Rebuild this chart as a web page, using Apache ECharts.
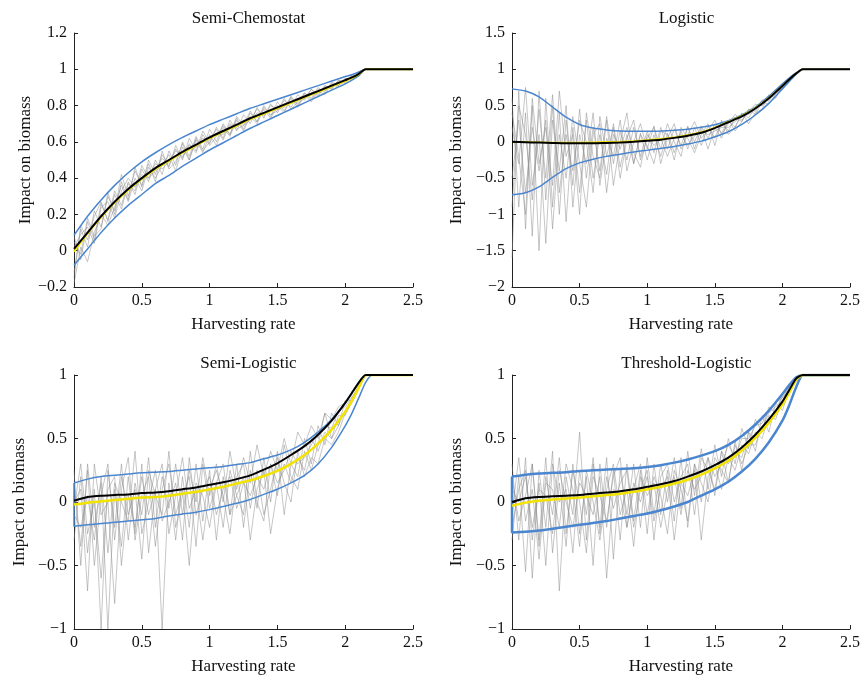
<!DOCTYPE html>
<html>
<head>
<meta charset="utf-8">
<script src="https://cdn.jsdelivr.net/npm/echarts@6/dist/echarts.min.js"></script>
<style>html,body{margin:0;padding:0;background:#fff}#c{width:863px;height:677px}</style>
</head>
<body>
<div id="c"></div>
<script>
var titles = ['Semi-Chemostat', 'Logistic', 'Semi-Logistic', 'Threshold-Logistic'];
var xName = 'Harvesting rate';
var yName = 'Impact on biomass';
var xTicks = [0, 0.5, 1, 1.5, 2, 2.5];
var yRanges = [[-0.2, 1.2, 0.2], [-2, 1.5, 0.5], [-1, 1, 0.5], [-1, 1, 0.5]];

var xSmooth = [0,0.1,0.2,0.3,0.4,0.5,0.6,0.7,0.8,0.9,1.0,1.1,1.2,1.3,1.4,1.5,1.6,1.7,1.8,1.9,2.0,2.05,2.1,2.15,2.2,2.5];
var xNoise = [0,0.05,0.1,0.15,0.2,0.25,0.3,0.35,0.4,0.45,0.5,0.55,0.6,0.65,0.7,0.75,0.8,0.85,0.9,0.95,1.0,1.05,1.1,1.15,1.2,1.25,1.3,1.35,1.4,1.45,1.5,1.55,1.6,1.65,1.7,1.75,1.8,1.85,1.9,1.95,2.0,2.05,2.1,2.15];

// Panel 1: Semi-Chemostat
var p1Mean   = [0.01,0.10,0.19,0.27,0.34,0.40,0.455,0.50,0.545,0.585,0.625,0.66,0.695,0.73,0.76,0.79,0.82,0.85,0.88,0.91,0.94,0.955,0.975,1.0,1.0,1.0];
var p1Yellow = [-0.005,0.095,0.185,0.265,0.335,0.395,0.45,0.495,0.54,0.58,0.62,0.655,0.69,0.725,0.755,0.785,0.815,0.845,0.875,0.905,0.935,0.952,0.972,1.0,1.0,1.0];
var p1Upper  = [0.085,0.19,0.28,0.36,0.43,0.49,0.54,0.585,0.625,0.66,0.695,0.725,0.755,0.785,0.81,0.835,0.86,0.885,0.91,0.935,0.96,0.97,0.985,1.0,1.0,1.0];
var p1Lower  = [-0.08,0.01,0.10,0.18,0.25,0.31,0.37,0.415,0.465,0.51,0.555,0.595,0.635,0.675,0.71,0.745,0.78,0.815,0.85,0.885,0.92,0.94,0.965,1.0,1.0,1.0];
var p1TraceA = [-0.12,0.12,0.02,0.22,0.13,0.30,0.22,0.42,0.30,0.44,0.36,0.50,0.42,0.53,0.46,0.58,0.50,0.62,0.55,0.66,0.59,0.68,0.62,0.72,0.66,0.75,0.70,0.79,0.73,0.81,0.76,0.83,0.79,0.86,0.83,0.89,0.86,0.91,0.89,0.94,0.93,0.96,0.97,1.0];
var p1TraceB = [0.08,-0.05,0.16,0.06,0.26,0.17,0.33,0.25,0.38,0.31,0.45,0.38,0.50,0.42,0.55,0.47,0.60,0.52,0.63,0.56,0.67,0.60,0.70,0.64,0.73,0.67,0.76,0.71,0.80,0.74,0.82,0.77,0.85,0.80,0.87,0.84,0.90,0.87,0.93,0.91,0.95,0.94,0.98,1.0];
var p1TraceC = [-0.18,0.02,-0.06,0.10,0.20,0.14,0.24,0.36,0.27,0.40,0.33,0.46,0.40,0.47,0.53,0.44,0.57,0.50,0.61,0.54,0.64,0.58,0.68,0.63,0.72,0.66,0.74,0.70,0.78,0.73,0.80,0.76,0.84,0.79,0.86,0.82,0.88,0.86,0.92,0.90,0.94,0.95,0.97,1.0];
var p1TraceD = [0.02,0.09,0.13,0.04,0.24,0.27,0.18,0.33,0.40,0.35,0.42,0.40,0.48,0.45,0.49,0.55,0.52,0.58,0.57,0.62,0.61,0.65,0.64,0.69,0.68,0.72,0.72,0.76,0.75,0.78,0.78,0.81,0.81,0.84,0.84,0.87,0.87,0.90,0.90,0.93,0.93,0.96,0.97,1.0];
var p1TraceE = [0.05,-0.02,0.18,0.08,0.12,0.32,0.20,0.38,0.28,0.46,0.35,0.48,0.38,0.55,0.45,0.49,0.59,0.50,0.62,0.55,0.60,0.67,0.61,0.70,0.67,0.69,0.77,0.71,0.79,0.75,0.77,0.84,0.78,0.82,0.87,0.83,0.89,0.88,0.92,0.91,0.95,0.94,0.98,1.0];
var p1TraceF = [-0.15,0.14,0.06,0.19,0.27,0.16,0.31,0.23,0.37,0.33,0.47,0.40,0.44,0.51,0.47,0.56,0.51,0.59,0.54,0.64,0.58,0.63,0.69,0.64,0.74,0.69,0.72,0.78,0.74,0.80,0.78,0.79,0.85,0.81,0.84,0.89,0.85,0.91,0.89,0.94,0.92,0.97,0.96,1.0];

// Panel 2: Logistic
var p2Mean   = [0,-0.005,-0.01,-0.015,-0.02,-0.02,-0.02,-0.015,-0.01,0,0.015,0.03,0.055,0.085,0.125,0.19,0.27,0.35,0.46,0.6,0.77,0.86,0.94,1.0,1.0,1.0];
var p2Yellow = [0,0,-0.005,-0.01,-0.01,-0.01,-0.005,0,0.005,0.012,0.025,0.042,0.065,0.095,0.135,0.2,0.28,0.36,0.47,0.61,0.775,0.86,0.94,1.0,1.0,1.0];
var p2Upper  = [0.73,0.70,0.62,0.48,0.34,0.24,0.19,0.165,0.15,0.145,0.145,0.15,0.16,0.175,0.2,0.235,0.29,0.37,0.48,0.63,0.8,0.88,0.95,1.0,1.0,1.0];
var p2Lower  = [-0.73,-0.70,-0.62,-0.49,-0.37,-0.29,-0.24,-0.2,-0.17,-0.14,-0.115,-0.09,-0.065,-0.03,0.01,0.07,0.14,0.24,0.37,0.53,0.73,0.83,0.93,1.0,1.0,1.0];
var p2TraceA = [0.6,-0.9,0.4,-1.3,0.7,-0.8,0.5,-1.0,0.3,-0.6,0.45,-0.5,0.2,-0.4,0.35,-0.3,0.15,-0.25,0.2,-0.2,0.15,-0.15,0.2,-0.1,0.18,-0.05,0.2,0.0,0.22,0.05,0.25,0.12,0.3,0.2,0.38,0.33,0.48,0.5,0.62,0.68,0.79,0.86,0.94,1.0];
var p2TraceB = [-1.6,0.7,-1.2,0.5,-1.5,0.6,-0.9,0.4,-1.1,0.2,-0.7,0.3,-0.5,0.1,-0.45,0.25,-0.35,0.1,-0.3,0.12,-0.25,0.1,-0.2,0.12,-0.15,0.15,-0.1,0.2,-0.05,0.22,0.05,0.28,0.15,0.33,0.28,0.45,0.42,0.58,0.56,0.72,0.75,0.87,0.93,1.0];
var p2TraceC = [0.2,-0.3,0.75,-0.6,0.1,-1.4,0.3,-0.4,0.5,-0.9,0.1,-0.3,0.4,-0.6,0.05,-0.2,0.3,-0.4,0.0,0.25,-0.1,0.22,-0.3,0.05,0.25,-0.1,0.1,0.28,0.05,0.15,0.3,0.1,0.25,0.38,0.3,0.42,0.52,0.5,0.6,0.7,0.77,0.85,0.94,1.0];
var p2TraceD = [-0.5,0.3,-0.7,0.2,-0.4,0.3,-1.2,0.1,-0.5,0.35,-0.3,-0.9,0.1,0.25,-0.7,0.1,-0.1,0.2,-0.15,-0.35,0.1,-0.05,0.05,-0.2,0.05,0.1,-0.05,0.08,0.15,0.1,0.15,0.2,0.2,0.28,0.35,0.38,0.45,0.55,0.58,0.7,0.76,0.86,0.93,1.0];
var p2TraceE = [0.4,-0.2,-1.0,0.6,-0.3,0.2,-0.6,0.7,-0.2,0.1,-1.0,0.4,-0.2,-0.5,0.3,-0.6,0.0,0.4,-0.3,0.1,-0.05,-0.3,0.15,0.1,-0.25,0.2,0.05,-0.15,0.1,0.25,-0.05,0.3,0.1,0.2,0.4,0.25,0.4,0.45,0.65,0.6,0.78,0.85,0.93,1.0];
var p2TraceF = [-0.9,0.5,0.1,-0.8,0.45,-0.5,0.65,-0.7,0.1,-0.4,0.3,0.0,-0.7,0.35,-0.2,0.2,-0.5,0.05,0.3,-0.25,0.05,0.2,-0.1,0.25,0.0,-0.2,0.22,-0.1,0.2,-0.1,0.2,0.05,0.3,0.15,0.28,0.45,0.38,0.55,0.52,0.66,0.74,0.84,0.94,1.0];

// Panel 3: Semi-Logistic
var p3Mean   = [0.01,0.04,0.05,0.055,0.06,0.07,0.075,0.085,0.1,0.115,0.135,0.155,0.18,0.21,0.255,0.305,0.37,0.44,0.53,0.64,0.78,0.86,0.94,1.0,1.0,1.0];
var p3Yellow = [-0.02,-0.005,0.005,0.015,0.025,0.035,0.04,0.05,0.065,0.08,0.1,0.12,0.145,0.17,0.205,0.245,0.3,0.37,0.46,0.57,0.71,0.8,0.9,1.0,1.0,1.0];
var p3Upper  = [0.15,0.18,0.2,0.21,0.22,0.23,0.235,0.24,0.25,0.26,0.27,0.28,0.295,0.31,0.34,0.37,0.41,0.47,0.55,0.65,0.78,0.86,0.94,1.0,1.0,1.0];
var p3Lower  = [-0.19,-0.18,-0.17,-0.16,-0.15,-0.14,-0.13,-0.11,-0.095,-0.08,-0.06,-0.035,-0.01,0.02,0.06,0.1,0.15,0.21,0.3,0.43,0.6,0.7,0.82,0.94,1.0,1.0];
var p3TraceA = [-0.3,0.2,-0.4,0.1,-1.0,0.25,-0.2,0.3,-0.3,0.15,-0.1,0.35,-0.2,0.2,-0.05,0.3,-0.1,0.25,0.0,0.35,0.05,0.3,0.0,0.4,0.1,0.35,0.15,0.45,0.2,0.4,0.25,0.5,0.3,0.55,0.45,0.6,0.5,0.7,0.65,0.75,0.78,0.85,0.93,1.0];
var p3TraceB = [0.25,-0.5,0.3,-0.2,0.15,-1.0,0.1,-0.35,0.2,-0.25,0.3,-0.4,0.1,-1.0,0.15,-0.3,0.2,-0.2,0.3,-0.15,0.25,-0.3,0.2,-0.1,0.3,-0.2,0.25,-0.05,0.35,0.0,0.4,-0.1,0.3,0.2,0.5,0.3,0.6,0.45,0.7,0.6,0.8,0.8,0.92,1.0];
var p3TraceC = [0.0,0.1,-0.7,0.3,-0.1,0.0,-0.8,0.1,0.35,-0.3,0.05,0.2,-0.35,0.1,0.3,-0.1,0.1,-0.5,0.15,0.05,-0.2,0.15,0.3,-0.1,0.05,0.2,-0.3,0.1,0.25,-0.25,0.1,0.3,0.15,0.35,0.25,0.5,0.4,0.55,0.5,0.68,0.68,0.8,0.9,1.0];
var p3TraceD = [-0.1,-0.2,0.05,-0.3,0.2,-0.4,0.15,0.0,-0.15,0.4,-0.25,0.0,0.25,-0.15,0.0,0.15,-0.3,0.35,-0.1,0.1,0.2,-0.1,0.1,0.2,-0.05,0.15,0.05,0.2,0.1,0.3,0.15,0.25,0.4,0.3,0.35,0.45,0.55,0.6,0.58,0.72,0.75,0.83,0.9,1.0];
var p3TraceE = [0.15,-0.35,0.25,-0.5,0.05,0.3,-0.3,0.2,-0.1,0.1,-0.45,0.25,0.05,-0.1,0.4,-0.2,0.05,0.2,-0.35,0.3,-0.05,0.15,-0.2,0.25,0.05,-0.1,0.4,0.0,-0.15,0.3,0.05,0.45,0.2,0.1,0.4,0.25,0.45,0.7,0.5,0.6,0.72,0.82,0.91,1.0];
var p3TraceF = [-0.05,0.3,-0.25,0.0,-0.6,0.1,0.2,-0.5,0.05,-0.2,0.2,-0.1,0.1,0.3,-0.25,0.05,0.35,-0.05,0.1,-0.3,0.1,0.25,0.05,-0.25,0.2,0.3,-0.05,0.25,-0.1,0.1,0.35,0.15,0.0,0.4,0.2,0.35,0.3,0.5,0.45,0.55,0.7,0.78,0.89,1.0];

// Panel 4: Threshold-Logistic
var p4Mean   = [0,0.03,0.04,0.045,0.05,0.055,0.065,0.075,0.085,0.1,0.12,0.14,0.165,0.2,0.24,0.29,0.35,0.43,0.53,0.65,0.79,0.88,0.97,1.0,1.0,1.0];
var p4Yellow = [-0.03,-0.005,0.01,0.02,0.027,0.035,0.045,0.055,0.065,0.08,0.1,0.12,0.145,0.175,0.215,0.265,0.325,0.405,0.505,0.625,0.77,0.86,0.96,1.0,1.0,1.0];
var p4Upper  = [0.2,0.215,0.225,0.23,0.235,0.245,0.25,0.255,0.26,0.265,0.275,0.29,0.31,0.335,0.365,0.4,0.45,0.52,0.61,0.72,0.85,0.92,0.98,1.0,1.0,1.0];
var p4Lower  = [-0.24,-0.235,-0.225,-0.21,-0.195,-0.18,-0.165,-0.15,-0.13,-0.11,-0.09,-0.065,-0.035,0.0,0.05,0.1,0.16,0.24,0.34,0.47,0.64,0.76,0.9,1.0,1.0,1.0];
var p4TraceA = [0.3,-0.3,0.35,-0.6,0.25,-0.2,0.4,-0.7,0.2,-0.1,0.55,-0.3,0.3,-0.2,0.35,-0.45,0.25,-0.1,0.3,-0.2,0.35,-0.1,0.3,0.0,0.35,-0.05,0.4,0.05,0.42,0.1,0.45,0.2,0.5,0.3,0.58,0.42,0.65,0.55,0.75,0.7,0.85,0.88,0.96,1.0];
var p4TraceB = [-0.3,0.2,-0.55,0.3,-0.3,0.35,-0.4,0.15,-0.35,0.3,-0.25,0.2,-0.5,0.3,-0.2,0.25,-0.3,0.3,-0.15,0.25,-0.25,0.3,-0.1,0.25,-0.15,0.35,-0.2,0.3,0.0,0.35,0.05,0.4,0.15,0.48,0.25,0.55,0.4,0.68,0.55,0.78,0.72,0.88,0.95,1.0];
var p4TraceC = [0.1,0.0,0.2,-0.2,0.1,0.05,-0.25,0.25,0.0,-0.2,0.15,0.05,-0.1,0.2,-0.6,0.1,0.05,-0.2,0.15,0.0,0.2,-0.15,0.1,0.2,-0.3,0.15,0.05,0.25,-0.3,0.2,0.3,0.1,0.35,0.25,0.45,0.38,0.55,0.5,0.68,0.65,0.8,0.85,0.95,1.0];
var p4TraceD = [-0.1,0.35,-0.15,0.1,-0.45,0.15,0.1,-0.2,0.3,0.1,-0.35,0.25,0.0,-0.3,0.1,0.3,-0.1,0.1,-0.35,0.2,0.05,0.15,-0.2,0.1,0.2,-0.1,0.25,0.1,0.2,0.35,0.2,0.3,0.45,0.35,0.5,0.5,0.6,0.62,0.72,0.78,0.82,0.9,0.96,1.0];
var p4TraceE = [0.2,-0.15,0.05,0.3,-0.35,0.2,-0.1,0.35,-0.25,0.25,0.0,-0.4,0.2,0.05,-0.15,0.2,0.35,-0.2,0.1,0.3,-0.1,0.2,0.05,-0.25,0.25,0.1,-0.15,0.3,0.15,0.0,0.35,0.25,0.15,0.45,0.3,0.45,0.45,0.6,0.65,0.7,0.83,0.87,0.96,1.0];
var p4TraceF = [-0.2,0.1,0.25,-0.3,0.15,-0.5,0.3,0.0,0.1,-0.4,0.25,-0.1,0.35,-0.25,0.2,-0.05,0.15,0.25,-0.2,0.1,0.25,-0.3,0.2,0.3,0.0,0.2,0.3,-0.1,0.35,0.25,0.1,0.4,0.3,0.4,0.35,0.55,0.5,0.58,0.7,0.75,0.8,0.9,0.95,1.0];

var panels = [
  {mean: p1Mean, yellow: p1Yellow, upper: p1Upper, lower: p1Lower, traces: [p1TraceA, p1TraceB, p1TraceC, p1TraceD, p1TraceE, p1TraceF], join: false, blueW: 1.5, yelW: 2},
  {mean: p2Mean, yellow: p2Yellow, upper: p2Upper, lower: p2Lower, traces: [p2TraceA, p2TraceB, p2TraceC, p2TraceD, p2TraceE, p2TraceF], join: false, blueW: 1.5, yelW: 1.5},
  {mean: p3Mean, yellow: p3Yellow, upper: p3Upper, lower: p3Lower, traces: [p3TraceA, p3TraceB, p3TraceC, p3TraceD, p3TraceE, p3TraceF], join: true, blueW: 1.5, yelW: 2.5},
  {mean: p4Mean, yellow: p4Yellow, upper: p4Upper, lower: p4Lower, traces: [p4TraceA, p4TraceB, p4TraceC, p4TraceD, p4TraceE, p4TraceF], join: true, blueW: 2.5, yelW: 2.5}
];

var FONT = '"Liberation Serif", "DejaVu Serif", serif';
var grids = [
  {left: 74, top: 33, width: 339, height: 254},
  {left: 512, top: 33, width: 339, height: 254},
  {left: 74, top: 375, width: 339, height: 254},
  {left: 512, top: 375, width: 339, height: 254}
];
var titleTops = [5, 5, 350, 350];
var yNameGaps = [36, 47, 46, 47];

function pairs(xs, ys) { return ys.map(function (y, i) { return [xs[i], y]; }); }
function fmt(v) { var s = String(parseFloat(v.toFixed(2))); return s.replace('-', '\u2212'); }

var option = {animation: false, title: [], grid: grids, xAxis: [], yAxis: [], series: []};

panels.forEach(function (p, k) {
  var g = grids[k];
  option.title.push({
    text: titles[k], left: g.left + g.width / 2, top: titleTops[k], textAlign: 'center',
    textStyle: {fontFamily: FONT, fontSize: 17, fontWeight: 'normal', color: '#111'}
  });
  option.xAxis.push({
    type: 'value', gridIndex: k, min: xTicks[0], max: xTicks[xTicks.length - 1], interval: 0.5,
    name: xName, nameLocation: 'middle', nameGap: 29,
    nameTextStyle: {fontFamily: FONT, fontSize: 17, color: '#111'},
    axisLine: {onZero: false, lineStyle: {color: '#222', width: 1}},
    axisTick: {inside: true, length: 4, lineStyle: {color: '#222'}},
    axisLabel: {fontFamily: FONT, fontSize: 16, color: '#111', margin: 6, formatter: fmt},
    splitLine: {show: false}
  });
  var yr = yRanges[k];
  option.yAxis.push({
    type: 'value', gridIndex: k, min: yr[0], max: yr[1], interval: yr[2],
    name: yName, nameLocation: 'middle', nameGap: yNameGaps[k],
    nameTextStyle: {fontFamily: FONT, fontSize: 17, color: '#111'},
    axisLine: {show: true, onZero: false, lineStyle: {color: '#222', width: 1}},
    axisTick: {show: true, inside: true, length: 4, lineStyle: {color: '#222'}},
    axisLabel: {fontFamily: FONT, fontSize: 16, color: '#111', margin: 7, formatter: fmt},
    splitLine: {show: false}
  });
  p.traces.forEach(function (t) {
    option.series.push({type: 'line', xAxisIndex: k, yAxisIndex: k, data: pairs(xNoise, t),
      symbol: 'none', silent: true, lineStyle: {color: '#8a8a8a', width: 0.7, opacity: 0.7}, z: 1});
  });
  var up = pairs(xSmooth, p.upper);
  var lo = pairs(xSmooth, p.lower);
  if (p.join) { lo.unshift([xSmooth[0], p.upper[0]]); }
  option.series.push({type: 'line', xAxisIndex: k, yAxisIndex: k, data: up, symbol: 'none', smooth: 0.2,
    silent: true, lineStyle: {color: '#4a86cf', width: p.blueW}, z: 2});
  option.series.push({type: 'line', xAxisIndex: k, yAxisIndex: k, data: lo, symbol: 'none', smooth: 0.2,
    silent: true, lineStyle: {color: '#4a86cf', width: p.blueW}, z: 2});
  option.series.push({type: 'line', xAxisIndex: k, yAxisIndex: k, data: pairs(xSmooth, p.yellow), symbol: 'none', smooth: 0.2,
    silent: true, lineStyle: {color: '#f2e400', width: p.yelW}, z: 3});
  option.series.push({type: 'line', xAxisIndex: k, yAxisIndex: k, data: pairs(xSmooth, p.mean), symbol: 'none', smooth: 0.2,
    silent: true, lineStyle: {color: '#000', width: 2}, z: 4});
});

var chart = echarts.init(document.getElementById('c'), null, {renderer: 'canvas'});
chart.setOption(option);
</script>
</body>
</html>
